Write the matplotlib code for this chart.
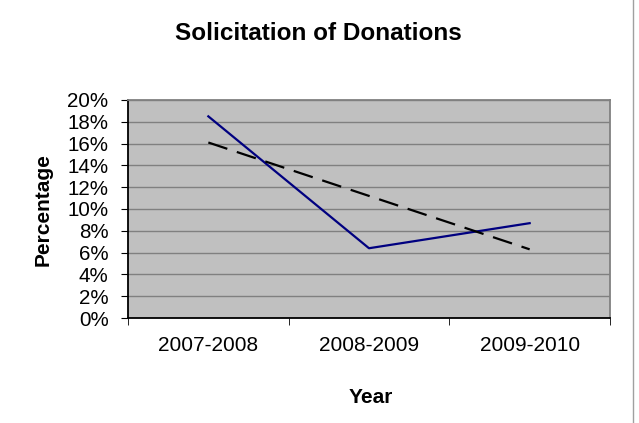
import matplotlib
matplotlib.use("Agg")
import matplotlib.pyplot as plt
import numpy as np
from matplotlib.ticker import PercentFormatter

categories = ["2007-2008", "2008-2009", "2009-2010"]
values = [18.5, 6.4, 8.7]
yticks = [0, 2, 4, 6, 8, 10, 12, 14, 16, 18, 20]

plt.rcParams['font.family'] = ['Liberation Sans', 'DejaVu Sans']

W, H = 639, 423
fig = plt.figure(figsize=(W/100, H/100), dpi=100)
ax = fig.add_axes([128/W, 1-318/H, (610-128)/W, (318-100)/H])
ax.set_facecolor('#C0C0C0')

x = np.arange(len(categories))
ax.plot(x, values, color='#000080', lw=1.6, zorder=3)
coef = np.polyfit(x, values, 1)
ax.plot(x, np.polyval(coef, x), color='black', lw=1.6, ls=(0, (9, 4.5)), zorder=3)

ax.set_xlim(-0.5, 2.5)
ax.set_ylim(0, 20)
ax.set_yticks(yticks)
ax.yaxis.set_major_formatter(PercentFormatter(decimals=0))
ax.grid(axis='y', color='#808080', lw=1)
ax.set_axisbelow(True)
ax.set_xticks(x)
ax.set_xticklabels(categories, fontsize=15)
ax.set_xticks([-0.5, 0.5, 1.5, 2.5], minor=True)
ax.tick_params(axis='x', which='major', length=0, pad=13)
ax.tick_params(axis='x', which='minor', length=5, color='black')
ax.tick_params(axis='y', length=5, labelsize=14.8, pad=9)

for s in ['top', 'right']:
    ax.spines[s].set_color('#808080')
    ax.spines[s].set_linewidth(1.3)
for s in ['left', 'bottom']:
    ax.spines[s].set_color('black')
    ax.spines[s].set_linewidth(1.3)

fig.text(43/W, 1-210/H, 'Percentage', fontsize=15, fontweight='bold',
         rotation=90, ha='center', va='center')
fig.text(371/W, 1-397/H, 'Year', fontsize=15, fontweight='bold',
         ha='center', va='center')
fig.text(318/W, 1-33/H, 'Solicitation of Donations', fontsize=17.5,
         fontweight='bold', ha='center', va='center')

fig.add_artist(plt.Line2D([633/W, 633/W], [0, 1], color='#A0A0A0', lw=1,
                          transform=fig.transFigure))

fig.savefig('out.png', dpi=100)
